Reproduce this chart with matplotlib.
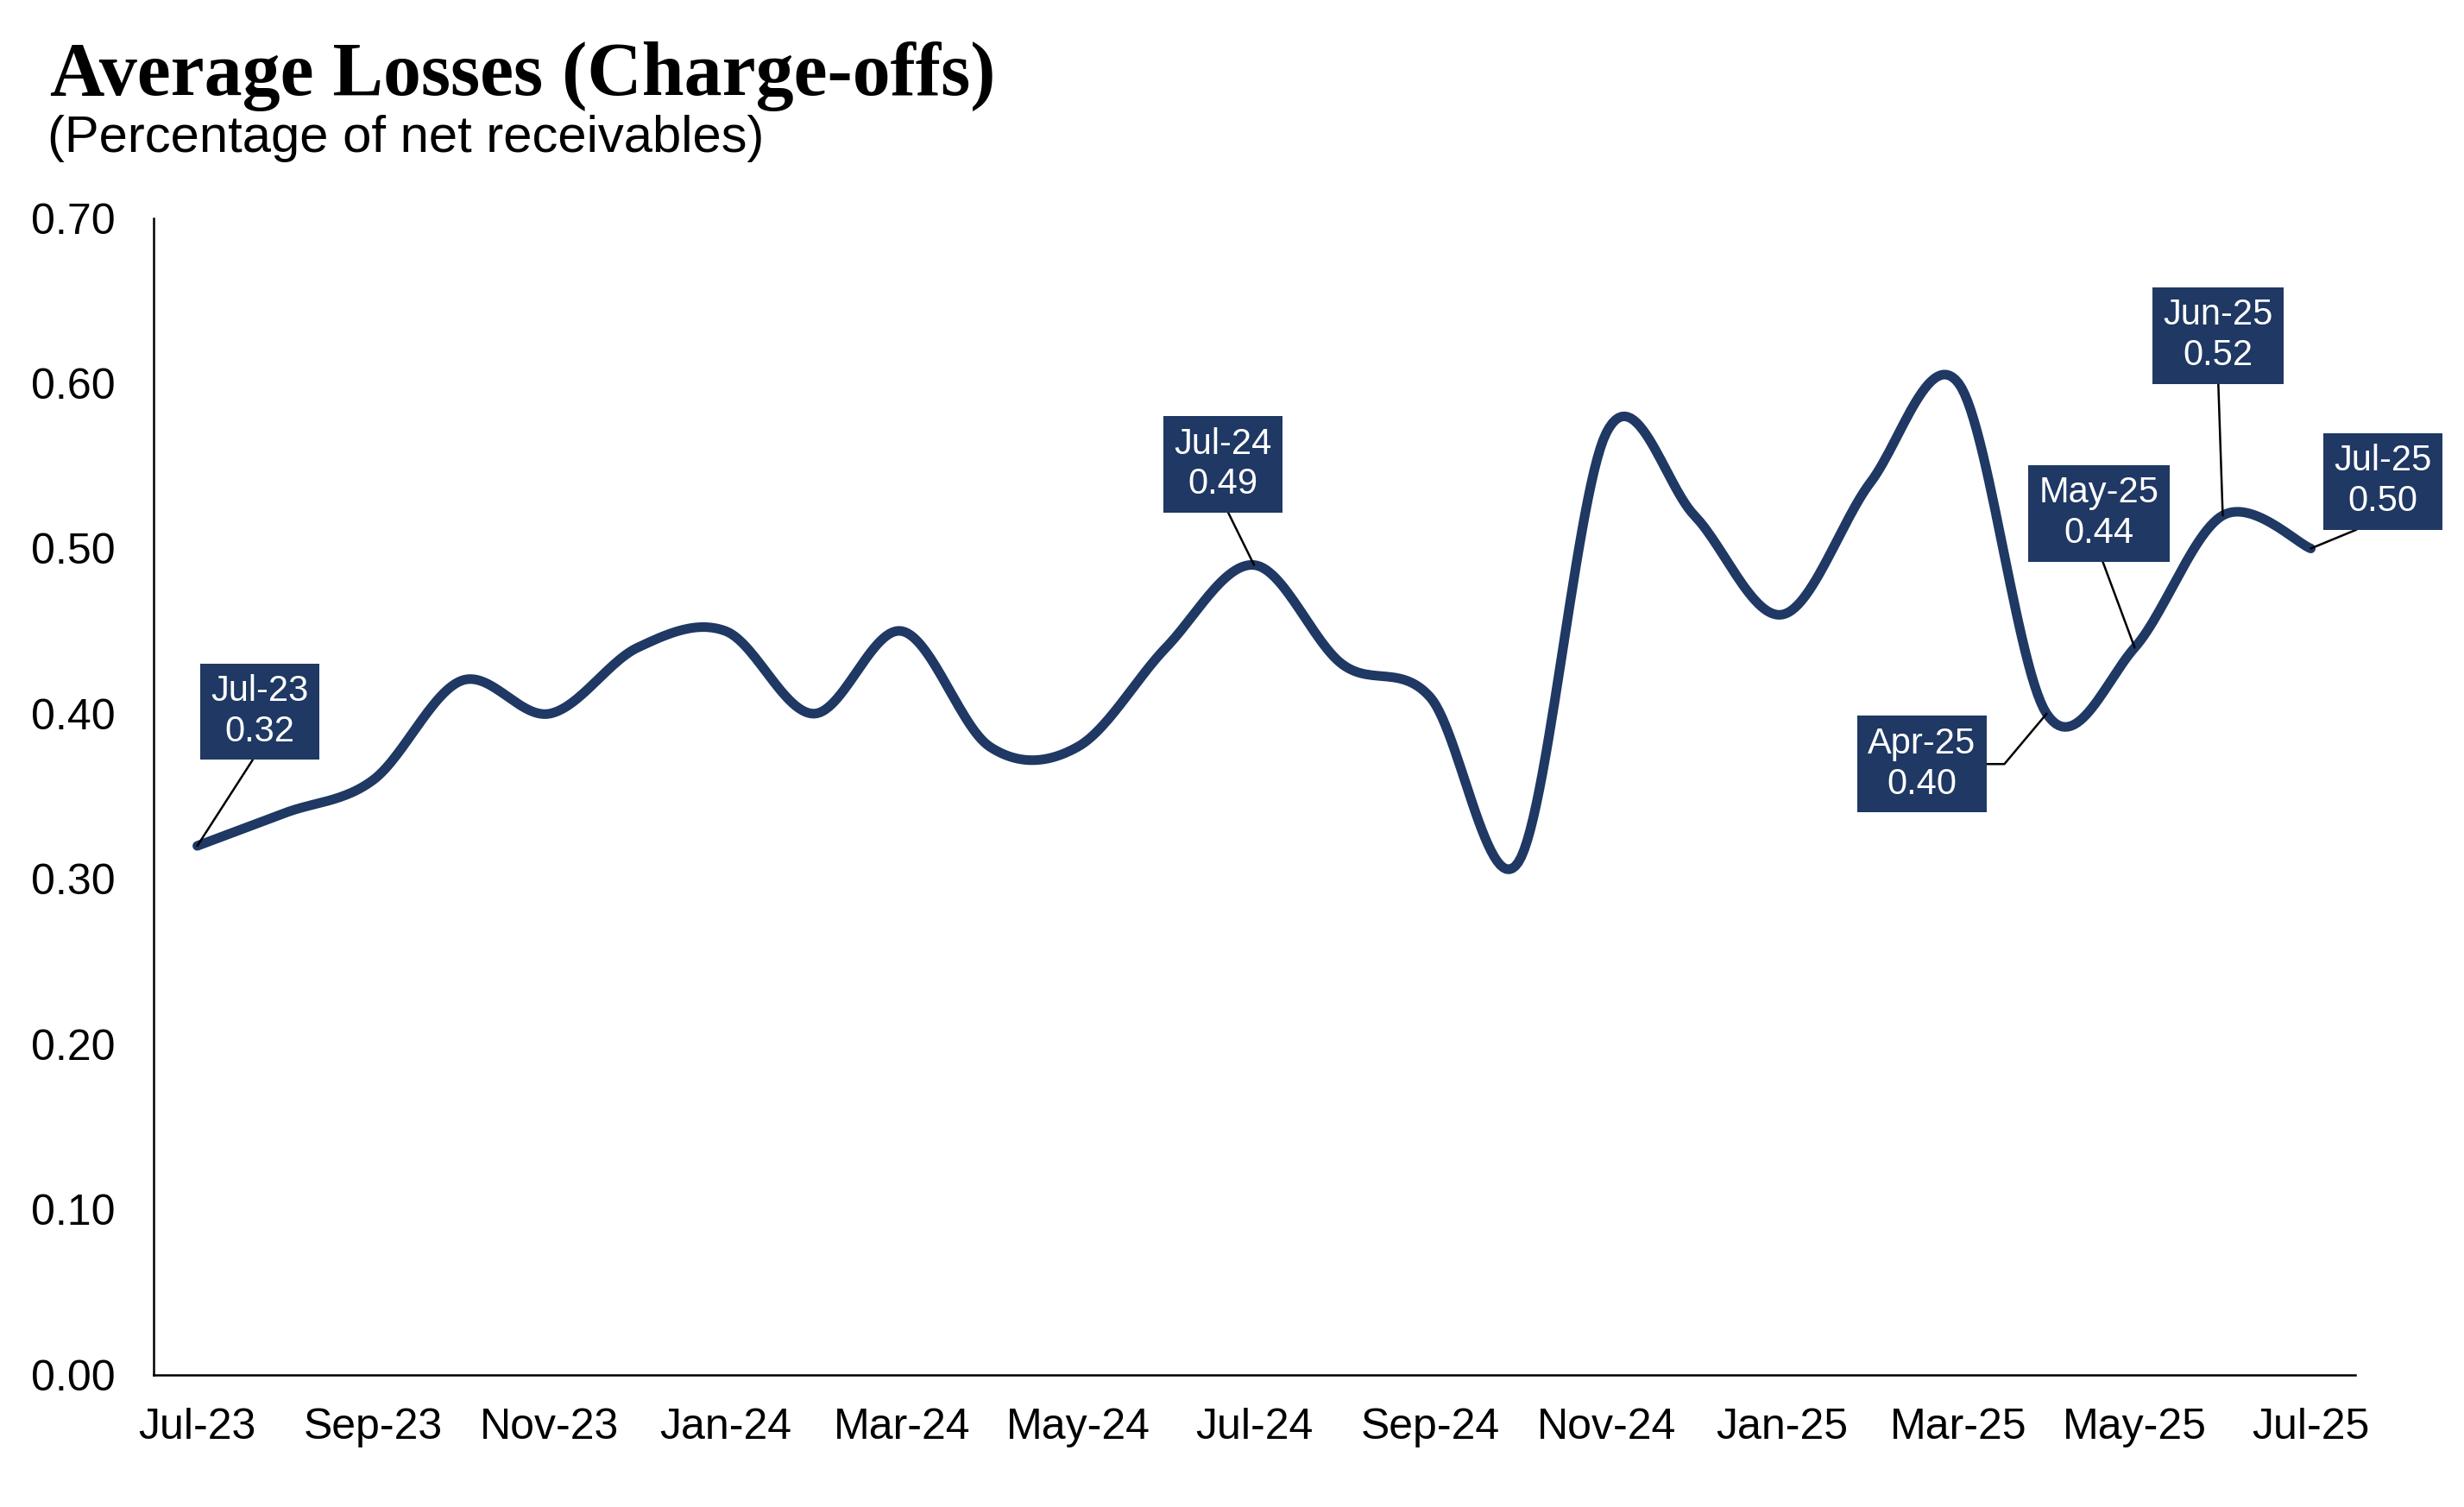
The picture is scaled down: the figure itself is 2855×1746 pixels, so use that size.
import numpy as np
import matplotlib
matplotlib.use("Agg")
import matplotlib.pyplot as plt

# monthly data, Jul-23 .. Jul-25
months = ["Jul-23", "Aug-23", "Sep-23", "Oct-23", "Nov-23", "Dec-23",
          "Jan-24", "Feb-24", "Mar-24", "Apr-24", "May-24", "Jun-24",
          "Jul-24", "Aug-24", "Sep-24", "Oct-24", "Nov-24", "Dec-24",
          "Jan-25", "Feb-25", "Mar-25", "Apr-25", "May-25", "Jun-25", "Jul-25"]
losses = [0.32, 0.34, 0.36, 0.42, 0.40, 0.44,
          0.45, 0.40, 0.45, 0.38, 0.38, 0.44,
          0.49, 0.43, 0.41, 0.31, 0.57, 0.52,
          0.46, 0.54, 0.60, 0.40, 0.44, 0.52, 0.50]

# labelled points and box offsets (points)
label_months = ["Jul-23", "Jul-24", "Apr-25", "May-25", "Jun-25", "Jul-25"]
label_offsets = [(26, 56), (-13, 42), (-52, -21), (-15, 56), (-2, 75), (30, 28)]

NAVY = "#1F3864"


def smooth(y, n=30):
    # cubic bezier through the points, excel-style smoothing
    x = np.arange(len(y), dtype=float)
    y = np.asarray(y, dtype=float)
    px = np.concatenate([[x[0]], x, [x[-1]]])
    py = np.concatenate([[y[0]], y, [y[-1]]])
    t = np.linspace(0, 1, n)[:, None]
    xs, ys = [], []
    for i in range(1, len(px) - 2):
        p0 = np.array([px[i], py[i]])
        p3 = np.array([px[i + 1], py[i + 1]])
        c1 = p0 + (p3 - np.array([px[i - 1], py[i - 1]])) / 6
        c2 = p3 - (np.array([px[i + 2], py[i + 2]]) - p0) / 6
        seg = ((1 - t) ** 3) * p0 + 3 * ((1 - t) ** 2) * t * c1 + 3 * (1 - t) * t ** 2 * c2 + t ** 3 * p3
        xs.append(seg[:, 0]); ys.append(seg[:, 1])
    return np.concatenate(xs), np.concatenate(ys)


plt.rcParams["font.family"] = ["Liberation Sans", "DejaVu Sans"]

fig = plt.figure(figsize=(14.275, 8.73), dpi=200)
ax = fig.add_axes([0.0622, 0.0879, 0.8935, 0.7674])

sx, sy = smooth(losses)
ax.plot(sx, sy, color=NAVY, lw=4, solid_capstyle="round", zorder=3)

for name, (dx, dy) in zip(label_months, label_offsets):
    i = months.index(name)
    v = losses[i]
    if name == "Apr-25":
        arrow = dict(arrowstyle="-", color="black", lw=0.9, shrinkA=0, shrinkB=0,
                     relpos=(1, 0.5), connectionstyle="angle,angleA=0,angleB=50,rad=0")
    else:
        arrow = dict(arrowstyle="-", color="black", lw=0.9, shrinkA=0, shrinkB=0,
                     relpos=(0.5, 0))
    ax.annotate(f"{name}\n{v:.2f}", xy=(i, v), xytext=(dx, dy),
                textcoords="offset points", ha="center", va="center",
                fontsize=15, color="white", linespacing=1.22,
                bbox=dict(boxstyle="square,pad=0.3", fc=NAVY, ec="none"),
                arrowprops=arrow, zorder=5)

ax.set_xlim(-0.5, 24.5)
ax.set_ylim(0, 0.70)
ax.set_xticks(range(0, len(months), 2))
ax.set_xticklabels(months[::2])
ax.set_yticks(np.arange(0, 0.71, 0.1))
ax.set_yticklabels([f"{v:.2f}" for v in np.arange(0, 0.71, 0.1)])
ax.tick_params(axis="both", length=0, labelsize=18)
ax.tick_params(axis="y", pad=16)
ax.tick_params(axis="x", pad=14)
for s in ["top", "right"]:
    ax.spines[s].set_visible(False)
for s in ["left", "bottom"]:
    ax.spines[s].set_linewidth(0.9)
    ax.spines[s].set_color("black")

fig.text(0.0203, 0.937, "Average Losses (Charge-offs)", fontsize=31.6,
         fontweight="bold", family="Liberation Serif", va="baseline")
fig.text(0.0193, 0.899, "(Percentage of net receivables)", fontsize=21.5,
         va="baseline")

fig.savefig("out.png", dpi=200, facecolor="white")
